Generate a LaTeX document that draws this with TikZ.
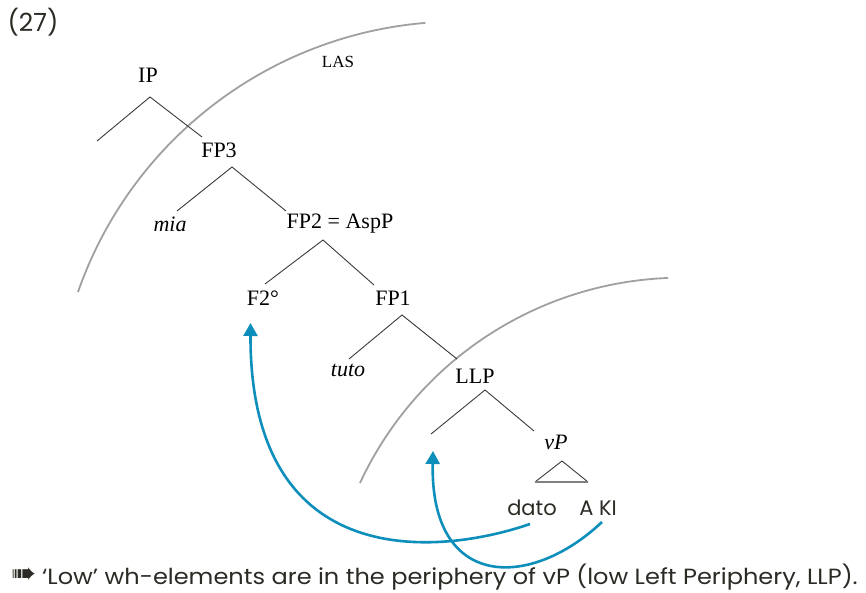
\documentclass[tikz,border=0pt]{standalone}
\usepackage{fontspec}
\setmainfont{Liberation Serif}
\newfontfamily\gothic{Poppins}
\newfontfamily\dingfont{DejaVu Sans}
\usetikzlibrary{arrows.meta}
\definecolor{arrowblue}{HTML}{0E8FBB}
\definecolor{inkdark}{HTML}{2B2A24}
\definecolor{branchgray}{HTML}{3A3A3A}
\definecolor{arcgray}{HTML}{A0A0A0}
\begin{document}
\begin{tikzpicture}[x=1pt,y=1pt,
  lab/.style={inner sep=0pt,font=\fontsize{22}{24}\selectfont,text=black},
  itlab/.style={lab,font=\fontsize{22}{24}\selectfont\itshape},
  sans/.style={inner sep=0pt,font=\gothic\fontsize{21}{24}\selectfont,text=inkdark},
  branch/.style={draw=branchgray,line width=0.9pt},
  periph/.style={draw=arcgray,line width=1.8pt},
  move/.style={draw=arrowblue,line width=2.6pt,-{Triangle[length=13pt,width=14pt]}}]
\useasboundingbox (0,0) rectangle (866,-593);
% example number
\node[sans,font=\gothic\fontsize{25}{28}\selectfont] (num) at (33,-22) {(27)};
% arcs
\draw[periph] (78,-292) arc[start angle=160.75,end angle=94.8,radius=403.6];
\draw[periph] (360,-483) arc[start angle=155.07,end angle=92.2,radius=354.9];
\node[lab,font=\fontsize{17}{19}\selectfont] (las) at (338,-62) {LAS};
% tree labels
\node[lab] (ip) at (148,-75) {IP};
\node[lab] (fp3) at (219,-150) {FP3};
\node[itlab] (mia) at (170,-224) {mia};
\node[lab] (fp2) at (340,-224) {FP2 = AspP};
\node[lab] (f2) at (263,-298) {F2°};
\node[lab] (fp1) at (393,-298) {FP1};
\node[itlab] (tuto) at (348,-370) {tuto};
\node[lab] (llp) at (475,-376) {LLP};
\node[itlab] (vp) at (556,-442) {vP};
\node[sans] (dato) at (532,-508) {dato};
\node[sans] (aki) at (598,-508) {A KI};
% branch points
\coordinate (ipA) at (150,-97);
\coordinate (ipL) at (97,-141);
\coordinate (ipR) at (202,-137);
\coordinate (fp3A) at (232,-167);
\coordinate (fp3L) at (177,-211);
\coordinate (fp3R) at (286,-211);
\coordinate (fp2A) at (323,-240);
\coordinate (fp2L) at (265,-284);
\coordinate (fp2R) at (374,-285);
\coordinate (fp1A) at (402,-315);
\coordinate (fp1L) at (349,-359);
\coordinate (fp1R) at (457,-359);
\coordinate (llpA) at (485,-390);
\coordinate (llpL) at (431,-434);
\coordinate (llpR) at (534,-431);
\coordinate (triA) at (562,-461);
\coordinate (triL) at (535,-482);
\coordinate (triR) at (588,-482);
\draw[branch] (ipL) -- (ipA) -- (ipR);
\draw[branch] (fp3L) -- (fp3A) -- (fp3R);
\draw[branch] (fp2L) -- (fp2A) -- (fp2R);
\draw[branch] (fp1L) -- (fp1A) -- (fp1R);
\draw[branch] (llpL) -- (llpA) -- (llpR);
\draw[branch] (triL) -- (triA) -- (triR);
\draw[draw=gray,line width=1.2pt] (triL) -- (triR);
% movement arrows
\coordinate (s1) at (530,-524);
\coordinate (t1) at (250.5,-323);
\coordinate (s2) at (602,-522);
\coordinate (t2) at (433,-451);
\draw[move] (s1) .. controls (440,-555) and (250,-575) .. (t1);
\draw[move] (s2) .. controls (530,-590) and (430,-590) .. (t2);
% bottom remark
\node[inner sep=0pt,text=inkdark,font=\dingfont\fontsize{30}{32}\selectfont] (bullet) at (24,-576) {➠};
\node[sans,font=\gothic\fontsize{22}{24}\selectfont,anchor=west] (remark) at (42,-577) {\scalebox{1.093}[1]{‘Low’ wh-elements are in the periphery of vP (low Left Periphery, LLP).}};
\end{tikzpicture}
\end{document}
